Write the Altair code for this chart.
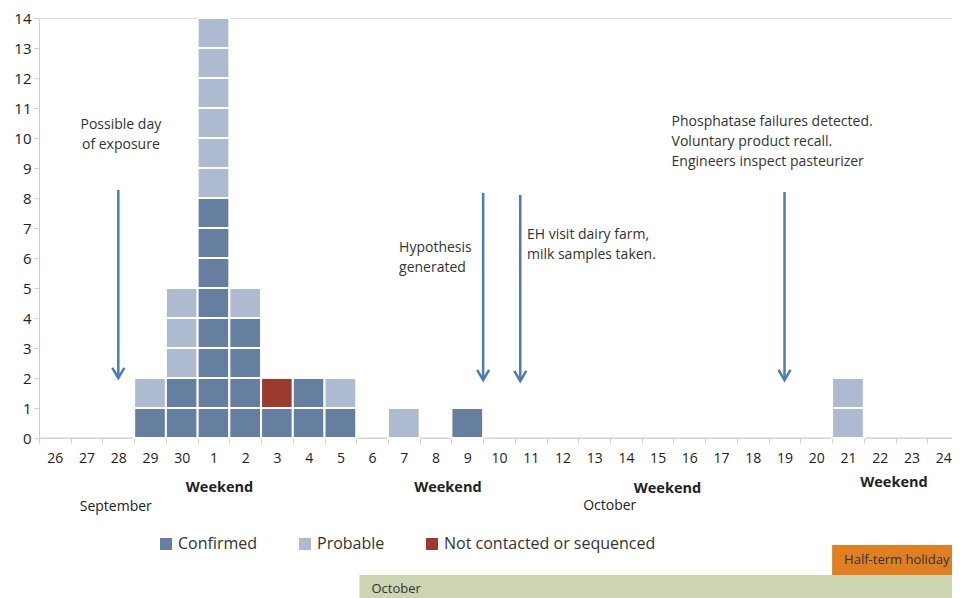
import altair as alt
import pandas as pd

# ---- data ----
dates = ["26", "27", "28", "29", "30"] + [str(d) for d in range(1, 25)]
confirmed = [0, 0, 0, 1, 2, 8, 4, 1, 2, 1, 0, 0, 0, 1, 0, 0, 0, 0, 0, 0, 0, 0, 0, 0, 0, 0, 0, 0, 0]
not_contacted = [0, 0, 0, 0, 0, 0, 0, 1, 0, 0, 0, 0, 0, 0, 0, 0, 0, 0, 0, 0, 0, 0, 0, 0, 0, 0, 0, 0, 0]
probable = [0, 0, 0, 1, 3, 6, 1, 0, 0, 1, 0, 1, 0, 0, 0, 0, 0, 0, 0, 0, 0, 0, 0, 0, 0, 2, 0, 0, 0]
statuses = ["Confirmed", "Probable", "Not contacted or sequenced"]
status_colors = ["#667ea0", "#adbad0", "#9b3b2e"]

# annotations (x in day-index units on the date axis, y in case units)
arrow_x = [2.5, 14.0, 15.17, 23.5]
arrow_top = [8.27, 8.17, 8.1, 8.2]
arrow_tip = [2.0, 1.93, 1.9, 1.93]

note_left_text = ["Hypothesis\ngenerated", "EH visit  dairy farm,\nmilk samples taken.",
                  "Phosphatase failures detected.\nVoluntary product recall.\nEngineers inspect pasteurizer"]
note_left_x = [11.35, 15.38, 19.94]
note_left_y = [6.35, 6.77, 10.53]
note_center_text = ["Possible day\nof exposure"]
note_center_x = [2.58]
note_center_y = [10.43]

weekend_x = [5.69, 12.89, 19.81, 26.95]
weekend_y = [-1.67, -1.67, -1.7, -1.5]
month_text = ["September", "October"]
month_x = [2.42, 17.99]
month_y = [-2.3, -2.27]

box_text = ["Half-term holiday", "October"]
box_x0 = [25, 10.1]
box_y0 = [-3.57, -4.57]
box_y1 = [-4.57, -5.5]
box_colors = ["#e07f22", "#cdd5b2"]

W = 913          # visible plot width (the page cuts the chart at its right edge)
XR = 920         # pixel span of the 29 day bands
H = 420
FONT = "Open Sans"
n = len(dates)
x_end = n * W / XR   # last visible position on the date axis

# ---- build tables ----
rows = []
order = [("Confirmed", confirmed), ("Not contacted or sequenced", not_contacted), ("Probable", probable)]
for i, d in enumerate(dates):
    level = 0
    for status, arr in order:
        for _ in range(arr[i]):
            rows.append(dict(i0=i, i1=i + 1, y0=level, y1=level + 1, status=status, date=d))
            level += 1
cells = pd.DataFrame(rows)

arrows = pd.DataFrame(dict(x=arrow_x, top=arrow_top, tip=arrow_tip))
notes_left = pd.DataFrame(dict(x=note_left_x, y=note_left_y, t=note_left_text))
notes_center = pd.DataFrame(dict(x=note_center_x, y=note_center_y, t=note_center_text))
weekends = pd.DataFrame(dict(x=weekend_x, y=weekend_y, t=["Weekend"] * len(weekend_x)))
months = pd.DataFrame(dict(x=month_x, y=month_y, t=month_text))
boxes = pd.DataFrame(dict(x0=box_x0, x1=[x_end] * 2, y0=box_y0, y1=box_y1, t=box_text, c=box_colors))
baseline = pd.DataFrame(dict(x0=[0], x1=[x_end], y=[0]))

label_arr = "[" + ",".join("'%s'" % d for d in dates) + "]"

xscale = alt.Scale(domain=[0, n], nice=False, zero=False, range=[0, XR])
yscale = alt.Scale(domain=[0, 14], nice=False)

AX = "#cfcfcf"
xaxis = alt.Axis(values=list(range(n)), tickCount=200,
                 labelExpr=label_arr + "[datum.value] || ''",
                 labelOffset=XR / n / 2, labelFontSize=14, labelFont=FONT, labelColor="#222",
                 labelPadding=8, tickSize=5, tickColor=AX, domain=False,
                 grid=False, title=None, labelOverlap=False, labelBound=False, labelFlush=False)
yaxis = alt.Axis(values=list(range(15)), tickCount=200, format="d", labelFontSize=15, labelFont=FONT,
                 labelColor="#222", labelOverlap=False,
                 labelPadding=3, tickSize=5, tickColor=AX, domainColor=AX,
                 grid=False, title=None)

bars = alt.Chart(cells).mark_rect(stroke="white", strokeWidth=2).encode(
    x=alt.X("i0:Q", scale=xscale, axis=xaxis),
    x2="i1",
    y=alt.Y("y0:Q", scale=yscale, axis=yaxis),
    y2="y1",
    color=alt.Color("status:N",
                    scale=alt.Scale(domain=statuses, range=status_colors),
                    legend=alt.Legend(orient="none", legendX=119, legendY=518, direction="horizontal",
                                      columns=3, columnPadding=39, symbolType="square", symbolSize=144,
                                      symbolStrokeWidth=0, labelFontSize=16, labelFont=FONT,
                                      labelColor="#333", title=None, padding=0, labelLimit=400)),
)

base_rule = alt.Chart(baseline).mark_rule(color=AX, strokeWidth=1).encode(
    x="x0:Q", x2="x1", y="y:Q")

ARROW = "#4b7bb8"
shafts = alt.Chart(arrows).mark_rule(color=ARROW, strokeWidth=2.5).encode(
    x="x:Q", y="top:Q", y2="tip")
heads = alt.Chart(arrows).mark_point(shape="M-1,-1.7L0,0L1,-1.7", filled=False, color=ARROW,
                                     strokeWidth=2.5, size=144, opacity=1).encode(
    x="x:Q", y="tip:Q")

t_left = alt.Chart(notes_left).mark_text(align="left", baseline="middle", lineBreak="\n", lineHeight=20,
                                         font=FONT, fontSize=14, color="#333").encode(
    x="x:Q", y="y:Q", text="t:N")
t_center = alt.Chart(notes_center).mark_text(align="center", baseline="middle", lineBreak="\n",
                                             lineHeight=20, font=FONT, fontSize=14, color="#333").encode(
    x="x:Q", y="y:Q", text="t:N")
t_week = alt.Chart(weekends).mark_text(align="center", baseline="middle", font=FONT, fontSize=14.5,
                                       fontWeight="bold", color="#222").encode(
    x="x:Q", y="y:Q", text="t:N")
t_month = alt.Chart(months).mark_text(align="center", baseline="middle", font=FONT, fontSize=14,
                                      color="#222").encode(
    x="x:Q", y="y:Q", text="t:N")

box_rects = alt.Chart(boxes).mark_rect().encode(
    x="x0:Q", x2="x1", y="y0:Q", y2="y1", color=alt.Color("c:N", scale=None))
box_labels = alt.Chart(boxes).mark_text(align="left", baseline="middle", dx=12, font=FONT,
                                        fontSize=13, color="#333").encode(
    x="x0:Q", y=alt.Y("mid:Q"), text="t:N").transform_calculate(mid="(datum.y0 + datum.y1) / 2")

chart = alt.layer(box_rects, box_labels, base_rule, bars, shafts, heads,
                  t_left, t_center, t_week, t_month).properties(
    width=W, height=H,
    autosize=alt.AutoSizeParams(type="none"),
    padding={"left": 31, "top": 10, "right": 0, "bottom": 160},
).configure_view(stroke=None).configure(font=FONT)

chart.save("out.html", embed_options={"renderer": "svg", "actions": False})
